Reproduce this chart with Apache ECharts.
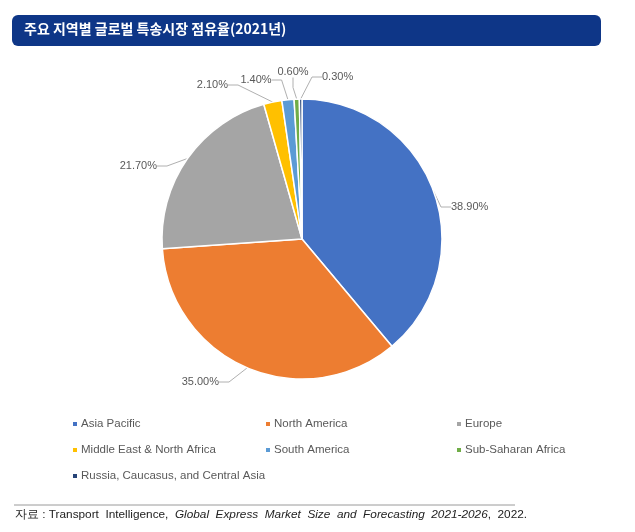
<!DOCTYPE html>
<html>
<head>
	<meta http-equiv="Content-Type" content="text/html;charset=utf-8">
	<title>주요 지역별 글로벌 특송시장 점유율(2021년)</title>
	<style>
	html, body { margin: 0; padding: 0; background: #fff; }
	#chart { width: 635px; height: 532px; }
	</style>
</head>
<body>
<div id="chart"></div>
<script src="https://cdn.jsdelivr.net/npm/echarts@6/dist/echarts.min.js"></script>
<script>
	// 지역별 점유율 (%)
	var regions = [
		'Asia Pacific',
		'North America',
		'Europe',
		'Middle East & North Africa',
		'South America',
		'Sub-Saharan Africa',
		'Russia, Caucasus, and Central Asia'
	];
	var shares = [38.9, 35.0, 21.7, 2.1, 1.4, 0.6, 0.3];
	var colors = ['#4472C4', '#ED7D31', '#A5A5A5', '#FFC000', '#5B9BD5', '#70AD47', '#264478'];

	var title = '주요 지역별 글로벌 특송시장 점유율(2021년)';

	var pieData = [];
	for (var i = 0; i < regions.length; i++) {
		pieData.push({ name: regions[i], value: shares[i], itemStyle: { color: colors[i] } });
	}

	// 라벨 위치 (엑셀 원본처럼 수동 배치)
	var labelPlace = [
		{ x: 451, y: 207, align: 'left' },
		{ x: 219, y: 382, align: 'right' },
		{ x: 157, y: 166, align: 'right' },
		{ x: 228, y: 85, align: 'right' },
		{ x: 256, y: 80, align: 'center' },
		{ x: 293, y: 72, align: 'center' },
		{ x: 322, y: 77, align: 'left' }
	];

	// 범례 3열
	var legendCols = [
		[regions[0], regions[3], regions[6]],
		[regions[1], regions[4]],
		[regions[2], regions[5]]
	];
	var legendLeft = [66, 259, 450];
	var legends = [];
	for (var c = 0; c < legendCols.length; c++) {
		legends.push({
			orient: 'vertical',
			left: legendLeft[c],
			top: 413,
			itemWidth: 6,
			itemHeight: 6,
			itemGap: 14,
			icon: 'rect',
			selectedMode: false,
			data: legendCols[c],
			textStyle: { color: '#595959', fontSize: 11.5, fontFamily: 'Liberation Sans', padding: [0, 0, 0, -2] }
		});
	}

	var option = {
		animation: false,
		backgroundColor: '#ffffff',
		legend: legends,
		graphic: [
			{
				type: 'rect',
				shape: { x: 12, y: 15, width: 589, height: 31, r: 6 },
				style: { fill: '#0E3687' }
			},
			{
				type: 'text',
				left: 24, top: 22,
				style: { text: title, fill: '#ffffff', fontSize: 14, fontWeight: 'bold', fontFamily: 'Noto Sans CJK KR' }
			},
			{
				type: 'line',
				shape: { x1: 14, y1: 505, x2: 515, y2: 505 },
				style: { stroke: '#9a9a9a', lineWidth: 1 }
			},
			{
				type: 'text',
				left: 15, top: 509,
				style: {
					text: '{n|자료 : Transport  Intelligence,  }{i|Global  Express  Market  Size  and  Forecasting  2021-2026}{n|,  2022.}',
					rich: {
						n: { fontSize: 11.8, fill: '#222', fontFamily: 'Liberation Sans' },
						i: { fontSize: 11.8, fill: '#222', fontStyle: 'italic', fontFamily: 'Liberation Sans' }
					}
				}
			}
		],
		series: [{
			type: 'pie',
			center: [302, 239],
			radius: 140,
			startAngle: 90,
			clockwise: true,
			data: pieData,
			itemStyle: { borderColor: '#ffffff', borderWidth: 1.5 },
			label: {
				show: true,
				formatter: function (p) { return p.value.toFixed(2) + '%'; },
				color: '#595959',
				fontSize: 11,
				fontFamily: 'Liberation Sans'
			},
			labelLine: {
				show: true,
				length: 8,
				length2: 10,
				lineStyle: { color: '#b0b0b0', width: 1 }
			},
			labelLayout: function (params) {
				var p = labelPlace[params.dataIndex];
				return { x: p.x, y: p.y, align: p.align, verticalAlign: 'middle' };
			}
		}]
	};

	var myChart = echarts.init(document.getElementById('chart'));
	myChart.setOption(option);
</script>
</body>
</html>
